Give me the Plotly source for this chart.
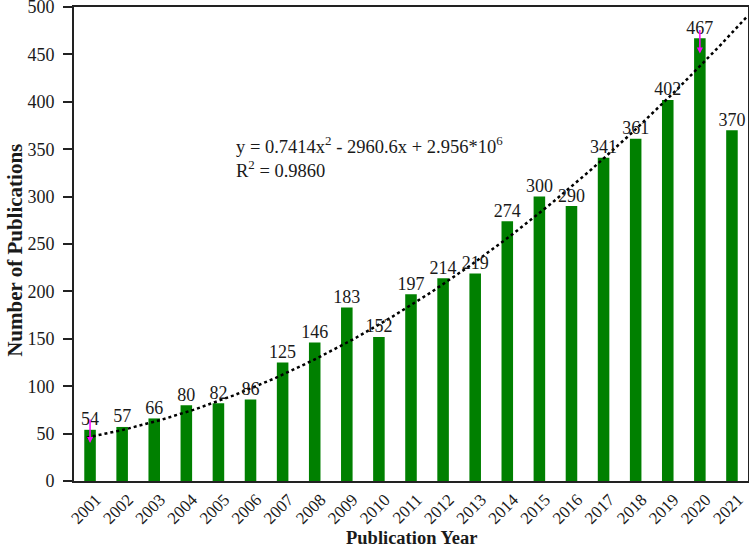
import numpy as np
import plotly.graph_objects as go

years = list(range(2001, 2022))
publications = [54, 57, 66, 80, 82, 86, 125, 146, 183, 152, 197, 214, 219, 274, 300, 290, 341, 361, 402, 467, 370]
tick_labels = [str(y) for y in years]
y_ticks = list(range(0, 501, 50))

# trend shown on the chart: y = a x^2 + b x + c (a, b as printed; c fitted to the data)
a_coef = 0.7414
b_coef = -2960.6
yrs = np.array(years, dtype=float)
c_coef = float(np.mean(np.array(publications) - a_coef * yrs**2 - b_coef * yrs))
xt = np.linspace(2000.9, 2021.5, 200)
yt = a_coef * xt**2 + b_coef * xt + c_coef

font_family = "Liberation Serif, Times New Roman, serif"
txt_color = "#1a1a1a"

fig = go.Figure()
fig.add_trace(go.Bar(
    x=years, y=publications, width=0.36,
    marker=dict(color="#008000", line=dict(width=0)),
    showlegend=False,
))
fig.add_trace(go.Scatter(
    x=xt, y=yt, mode="lines",
    line=dict(color="black", width=2.5, dash="dot"),
    showlegend=False, hoverinfo="skip",
))
fig.add_trace(go.Scatter(
    x=years, y=publications, mode="text",
    text=[str(v) for v in publications], textposition="top center",
    textfont=dict(family=font_family, size=18, color=txt_color),
    cliponaxis=False, showlegend=False, hoverinfo="skip",
))

# magenta arrows
for xa, ya in [(2001, 40), (2020, 451)]:
    fig.add_annotation(x=xa, y=ya, ax=0, ay=-25, xref="x", yref="y",
                       showarrow=True, arrowhead=2, arrowsize=0.8, arrowwidth=1.5,
                       arrowcolor="#ff00ff", text="")

fig.add_annotation(x=2005.5, y=354, xref="x", yref="y", xanchor="left", yanchor="middle",
                   text="y = 0.7414x<sup>2</sup> - 2960.6x + 2.956*10<sup>6</sup>",
                   showarrow=False, font=dict(family=font_family, size=18.5, color=txt_color))
fig.add_annotation(x=2005.5, y=329, xref="x", yref="y", xanchor="left", yanchor="middle",
                   text="R<sup>2</sup> = 0.9860",
                   showarrow=False, font=dict(family=font_family, size=18.5, color=txt_color))

# axis titles
fig.add_annotation(x=0.5, y=-0.12, xref="paper", yref="paper", yanchor="middle",
                   text="<b>Publication Year</b>", showarrow=False,
                   font=dict(family=font_family, size=18.5, color=txt_color))
fig.add_annotation(x=-0.088, y=0.487, xref="paper", yref="paper", xanchor="center",
                   text="<b>Number of Publications</b>", showarrow=False, textangle=-90,
                   font=dict(family=font_family, size=21, color=txt_color))

fig.update_layout(
    width=749, height=548,
    margin=dict(l=74, r=1, t=7, b=67),
    plot_bgcolor="white", paper_bgcolor="white",
    font=dict(family=font_family, size=17, color=txt_color),
)
fig.update_xaxes(
    range=[2000.5, 2021.5], tickmode="array", tickvals=years, ticktext=tick_labels,
    tickangle=-45, showgrid=False, zeroline=False, automargin=False,
    showline=True, linecolor="#222", linewidth=2, mirror=True, ticks="",
    ticklabelshift=6, ticklabelstandoff=0, ticklabeloverflow="allow",
    tickfont=dict(family=font_family, size=17, color=txt_color),
)
fig.update_yaxes(
    range=[0, 500], tickmode="array", tickvals=y_ticks,
    showgrid=False, zeroline=False, automargin=False,
    showline=True, linecolor="#222", linewidth=2, mirror=True,
    ticks="outside", ticklen=9, tickwidth=1.5, tickcolor="#222",
    ticklabelstandoff=5, ticklabeloverflow="allow",
    tickfont=dict(family=font_family, size=18, color=txt_color),
)

fig.write_html("out.html", config={"displayModeBar": False},
               post_script="document.body.style.margin='0';")
